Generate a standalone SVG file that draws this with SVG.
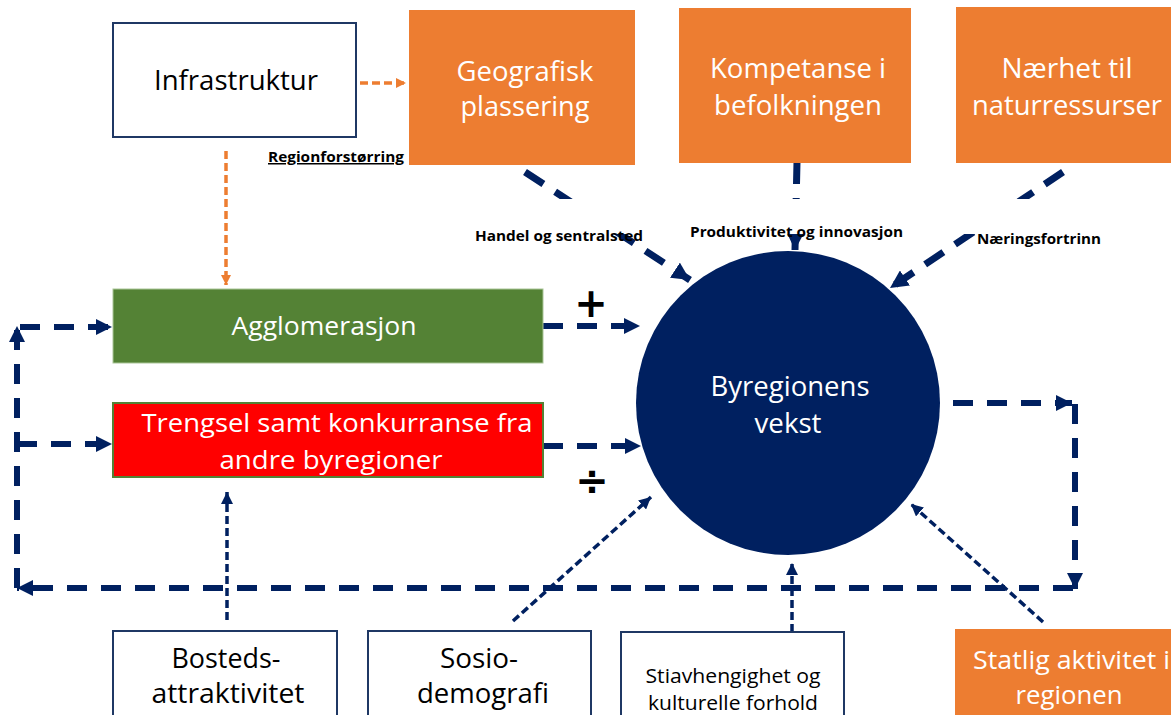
<svg xmlns="http://www.w3.org/2000/svg" width="1171" height="715" viewBox="0 0 1171 715">
<style>
  .t { font-family: "Open Sans", "Noto Sans", "DejaVu Sans", sans-serif; }
  .w { fill: #FFFFFF; }
  .k { fill: #000000; }
  .lbl { font-family: "Open Sans", "Noto Sans", sans-serif; font-weight: bold; font-size: 15px; fill: #000; }
  .sign { font-family: "DejaVu Sans", sans-serif; font-weight: bold; font-size: 40px; fill: #000; }
  .box { fill: #FFFFFF; stroke: #1F3864; stroke-width: 2; }
  .org { fill: #ED7D31; }
  .thick { fill: none; stroke: #002060; stroke-width: 7; stroke-dasharray: 22 14; }
  .mid { fill: none; stroke: #002060; stroke-width: 6; stroke-dasharray: 20 14; }
  .thin { fill: none; stroke: #002060; stroke-width: 3.5; stroke-dasharray: 8 4; }
  .oline { fill: none; stroke: #ED7D31; stroke-width: 3.5; stroke-dasharray: 8 4; }
</style>
<defs>
  <marker id="ahBig" viewBox="0 0 16 16" markerWidth="18" markerHeight="18" markerUnits="userSpaceOnUse" refX="16" refY="8" orient="auto">
    <path d="M0,0 L16,8 L0,16 z" fill="#002060"/>
  </marker>
  <marker id="ahMid" viewBox="0 0 16 16" markerWidth="16" markerHeight="16" markerUnits="userSpaceOnUse" refX="16" refY="8" orient="auto">
    <path d="M0,0 L16,8 L0,16 z" fill="#002060"/>
  </marker>
  <marker id="ahSmall" viewBox="0 0 12 12" markerWidth="12" markerHeight="12" markerUnits="userSpaceOnUse" refX="12" refY="6" orient="auto">
    <path d="M0,0 L12,6 L0,12 z" fill="#002060"/>
  </marker>
  <marker id="ahOrg" viewBox="0 0 10 10" markerWidth="10" markerHeight="10" markerUnits="userSpaceOnUse" refX="10" refY="5" orient="auto">
    <path d="M0,0 L10,5 L0,10 z" fill="#ED7D31"/>
  </marker>
</defs>

<rect width="1171" height="715" fill="#FFFFFF"/>

<g id="connectors">
  <path class="oline" d="M360,83 L406,83" marker-end="url(#ahOrg)"/>
  <path class="oline" d="M226,151 L226,285" marker-end="url(#ahOrg)"/>
  <path class="thick" d="M525,172 L690,280" marker-end="url(#ahBig)"/>
  <path class="thick" d="M797,162 L795,250" stroke-dasharray="21 100" marker-end="url(#ahBig)"/>
  <path class="thick" d="M1063,172 L890,288" marker-end="url(#ahBig)"/>
  <path class="mid" d="M543,326 L640,326" marker-end="url(#ahMid)"/>
  <path class="mid" d="M543,446 L641,446" marker-end="url(#ahMid)"/>
  <path class="mid" d="M953,403 L1072,403" marker-end="url(#ahMid)"/>
  <path class="mid" d="M1075,404 L1075,589" marker-end="url(#ahMid)"/>
  <path class="mid" d="M1073,588 L17,588" marker-end="url(#ahMid)"/>
  <path class="mid" d="M17,588 L17,326" marker-end="url(#ahMid)"/>
  <path class="mid" d="M20,327 L112,327" marker-end="url(#ahMid)"/>
  <path class="mid" d="M17,444 L112,444" marker-end="url(#ahMid)"/>
  <path class="thin" d="M227,620 L227,492" marker-end="url(#ahSmall)"/>
  <path class="thin" d="M513,621 L651,497" marker-end="url(#ahSmall)"/>
  <path class="thin" d="M792,632 L792,563" marker-end="url(#ahSmall)"/>
  <path class="thin" d="M1043,622 L911,504" marker-end="url(#ahSmall)"/>
</g>

<rect x="460" y="199" width="650" height="35" fill="#FFFFFF"/>

<g id="labels">
  <text class="lbl" x="475" y="241" textLength="168" lengthAdjust="spacingAndGlyphs">Handel og sentralsted</text>
  <text class="lbl" x="690" y="237" textLength="213" lengthAdjust="spacingAndGlyphs">Produktivitet og innovasjon</text>
  <text class="lbl" x="977" y="244" textLength="124" lengthAdjust="spacingAndGlyphs">Næringsfortrinn</text>
  <text class="lbl" x="268" y="162" textLength="136" lengthAdjust="spacingAndGlyphs" text-decoration="underline">Regionforstørring</text>
  <text class="sign" x="591" y="317" text-anchor="middle">+</text>
  <text class="sign" x="592" y="495" text-anchor="middle">÷</text>
</g>

<g id="infrastruktur">
  <rect class="box" x="113" y="23" width="243" height="114"/>
  <text class="t k" x="236" y="90" font-size="28" text-anchor="middle" textLength="164" lengthAdjust="spacingAndGlyphs">Infrastruktur</text>
</g>

<g id="geografisk">
  <rect class="org" x="409" y="10" width="226" height="155"/>
  <text class="t w" x="525" y="81" font-size="27" text-anchor="middle" textLength="137" lengthAdjust="spacingAndGlyphs">Geografisk</text>
  <text class="t w" x="525" y="116" font-size="27" text-anchor="middle" textLength="129" lengthAdjust="spacingAndGlyphs">plassering</text>
</g>

<g id="kompetanse">
  <rect class="org" x="679" y="8" width="232" height="155"/>
  <text class="t w" x="798" y="78" font-size="27" text-anchor="middle" textLength="176" lengthAdjust="spacingAndGlyphs">Kompetanse i</text>
  <text class="t w" x="798" y="115" font-size="27" text-anchor="middle" textLength="168" lengthAdjust="spacingAndGlyphs">befolkningen</text>
</g>

<g id="naerhet">
  <rect class="org" x="956" y="7" width="220" height="156"/>
  <text class="t w" x="1067" y="78" font-size="27" text-anchor="middle" textLength="131" lengthAdjust="spacingAndGlyphs">Nærhet til</text>
  <text class="t w" x="1067" y="115" font-size="27" text-anchor="middle" textLength="190" lengthAdjust="spacingAndGlyphs">naturressurser</text>
</g>

<g id="agglomerasjon">
  <rect x="113" y="289" width="430" height="74" fill="#548235" stroke="#A9C597" stroke-width="1"/>
  <text class="t w" x="324" y="335" font-size="26" text-anchor="middle" textLength="185" lengthAdjust="spacingAndGlyphs">Agglomerasjon</text>
</g>

<g id="trengsel">
  <rect x="113" y="403" width="430" height="74" fill="#FF0000" stroke="#548235" stroke-width="2"/>
  <text class="t w" x="337" y="432" font-size="26" text-anchor="middle" textLength="391" lengthAdjust="spacingAndGlyphs">Trengsel samt konkurranse fra</text>
  <text class="t w" x="331" y="469" font-size="26" text-anchor="middle" textLength="223" lengthAdjust="spacingAndGlyphs">andre byregioner</text>
</g>

<g id="byregionens-vekst">
  <circle cx="788" cy="403" r="152" fill="#002060"/>
  <text class="t w" x="790" y="396" font-size="28" text-anchor="middle" textLength="159" lengthAdjust="spacingAndGlyphs">Byregionens</text>
  <text class="t w" x="788" y="433" font-size="28" text-anchor="middle" textLength="67" lengthAdjust="spacingAndGlyphs">vekst</text>
</g>

<g id="bosteds">
  <rect class="box" x="113" y="631" width="224" height="90"/>
  <text class="t k" x="226" y="668" font-size="27" text-anchor="middle" textLength="109" lengthAdjust="spacingAndGlyphs">Bosteds-</text>
  <text class="t k" x="228" y="703" font-size="27" text-anchor="middle" textLength="153" lengthAdjust="spacingAndGlyphs">attraktivitet</text>
</g>

<g id="sosio">
  <rect class="box" x="368" y="631" width="223" height="90"/>
  <text class="t k" x="479" y="668" font-size="27" text-anchor="middle" textLength="78" lengthAdjust="spacingAndGlyphs">Sosio-</text>
  <text class="t k" x="483" y="703" font-size="27" text-anchor="middle" textLength="132" lengthAdjust="spacingAndGlyphs">demografi</text>
</g>

<g id="stiavhengighet">
  <rect class="box" x="621" y="632" width="223" height="90"/>
  <text class="t k" x="733" y="683" font-size="20" text-anchor="middle" textLength="175" lengthAdjust="spacingAndGlyphs">Stiavhengighet og</text>
  <text class="t k" x="733" y="710" font-size="20" text-anchor="middle" textLength="170" lengthAdjust="spacingAndGlyphs">kulturelle forhold</text>
</g>

<g id="statlig">
  <rect class="org" x="955" y="629" width="220" height="90"/>
  <text class="t w" x="973" y="669" font-size="25" textLength="197" lengthAdjust="spacingAndGlyphs">Statlig aktivitet i</text>
  <text class="t w" x="1069" y="704" font-size="25" text-anchor="middle" textLength="107" lengthAdjust="spacingAndGlyphs">regionen</text>
</g>
</svg>
